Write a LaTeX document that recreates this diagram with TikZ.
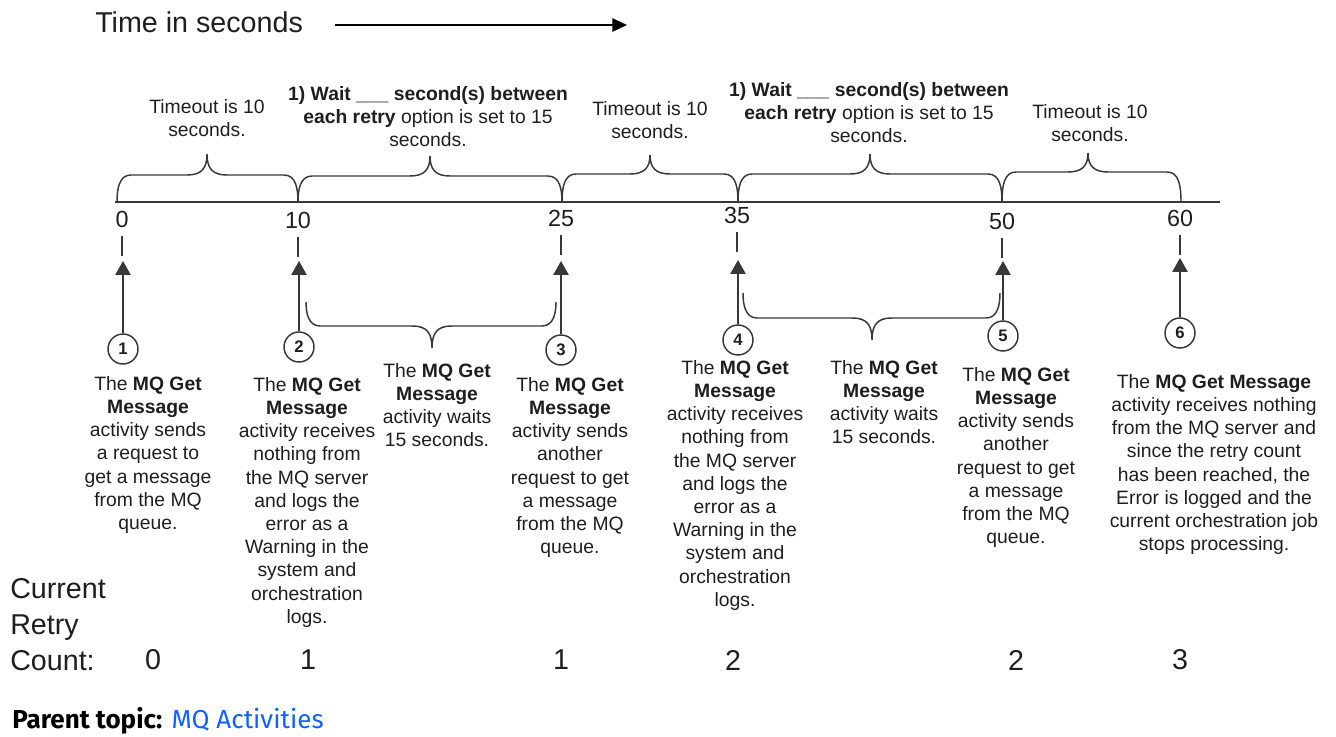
\documentclass[tikz,border=0pt]{standalone}
\usepackage{fontspec}
\setmainfont{Liberation Sans}
\newfontfamily\plexfont{Fira Sans}
\usetikzlibrary{arrows.meta}
\definecolor{ink}{HTML}{1E1E1E}
\definecolor{linec}{HTML}{383838}
\definecolor{ibmblue}{HTML}{0F62FE}
% x1 x2 xm ybase yflat ytip dir
\newcommand\curlybrace[7]{%
  \draw[bracestyle] (#1,#4) .. controls (#1,{#5+(#7)*14}) and (#1+2,#5) .. (#1+14,#5)
    -- (#3-20,#5) .. controls (#3-6,#5) and (#3,{#5-(#7)*6}) .. (#3,#6)
    .. controls (#3,{#5-(#7)*6}) and (#3+6,#5) .. (#3+20,#5)
    -- (#2-14,#5) .. controls (#2-2,#5) and (#2,{#5+(#7)*14}) .. (#2,#4);}
\begin{document}
\begin{tikzpicture}[x=0.75pt,y=-0.75pt,
  bracestyle/.style={draw=linec, line width=1.1pt},
  desc/.style={align=center, font=\fontsize{14.5}{17.4}\selectfont, inner sep=0pt, anchor=north, text=ink},
  ticklab/.style={font=\fontsize{17.5}{20}\selectfont, inner sep=0pt, text=ink},
  bigtxt/.style={font=\fontsize{21.5}{27}\selectfont, inner sep=0pt, text=ink},
  tickseg/.style={draw=linec, line width=1.1pt},
  circ/.style={circle, draw=linec, line width=1.1pt, minimum size=22.5pt, inner sep=0pt, font=\bfseries\fontsize{12.5}{14}\selectfont, text=ink},
  arr/.style={draw=linec, line width=1.3pt, -{Triangle[length=10.5pt,width=11.5pt]}},
  timeline/.style={draw=linec, line width=1.4pt}]
\useasboundingbox (0,0) rectangle (1336,737);

% title
\node[bigtxt, anchor=west] (title) at (95,22) {Time in seconds};
\coordinate (ta) at (335,25);
\coordinate (tb) at (627,25);
\draw[line width=1.2pt, black, -{Triangle[length=11pt,width=10pt]}] (ta) -- (tb);

% timeline
\coordinate (tl) at (115,202);
\coordinate (tr) at (1220,202);
\draw[timeline] (tl) -- (tr);

% top braces
\curlybrace{117}{298}{207}{202}{175}{154}{1}
\curlybrace{298}{562}{430}{202}{176}{156}{1}
\curlybrace{562}{738}{650}{202}{174}{155}{1}
\curlybrace{738}{1002}{870}{202}{174}{154}{1}
\curlybrace{1002}{1181}{1088}{202}{172}{153}{1}

% top labels
\node[desc] (lab1) at (207,99) {Timeout is 10\\seconds.};
\node[desc] (lab2) at (428,86) {\bfseries 1) Wait \_\_\_ second(s) between\\{\bfseries each retry} option is set to 15\\seconds.};
\node[desc] (lab3) at (650,101) {Timeout is 10\\seconds.};
\node[desc] (lab4) at (869,82) {\bfseries 1) Wait \_\_\_ second(s) between\\{\bfseries each retry} option is set to 15\\seconds.};
\node[desc] (lab5) at (1090,104) {Timeout is 10\\seconds.};

% tick labels
\node[ticklab] (t0) at (122,219) {0};
\node[ticklab] (t10) at (298,220) {10};
\node[ticklab] (t25) at (561,218) {25};
\node[ticklab] (t35) at (737,215) {35};
\node[ticklab] (t50) at (1002,221) {50};
\node[ticklab] (t60) at (1180,218) {60};

\foreach \t in {t0,t10,t25,t35,t50,t60}
  \draw[tickseg] ([yshift=-6pt]\t.south) -- ++(0,20);

% circles
\node[circ] (c1) at (123,349) {1};
\node[circ] (c2) at (299,347) {2};
\node[circ] (c3) at (561,350) {3};
\node[circ] (c4) at (738,340) {4};
\node[circ] (c5) at (1003,336) {5};
\node[circ] (c6) at (1180,333) {6};

\coordinate (a1) at (123,261);
\coordinate (a2) at (299,261);
\coordinate (a3) at (561,261);
\coordinate (a4) at (738,260);
\coordinate (a5) at (1003,261);
\coordinate (a6) at (1180,258);
\foreach \i in {1,...,6}
  \draw[arr] (c\i) -- (a\i);

% lower braces
\curlybrace{306}{556}{432}{302}{326}{348}{-1}
\curlybrace{743}{1000}{872}{293}{318}{340}{-1}

% descriptions
\node[desc] (d1) at (148,376) {The {\bfseries MQ Get}\\{\bfseries Message}\\activity sends\\a request to\\get a message\\from the MQ\\queue.};
\node[desc] (d2) at (307,377) {The {\bfseries MQ Get}\\{\bfseries Message}\\activity receives\\nothing from\\the MQ server\\and logs the\\error as a\\Warning in the\\system and\\orchestration\\logs.};
\node[desc] (d3) at (437,363) {The {\bfseries MQ Get}\\{\bfseries Message}\\activity waits\\15 seconds.};
\node[desc] (d4) at (570,377) {The {\bfseries MQ Get}\\{\bfseries Message}\\activity sends\\another\\request to get\\a message\\from the MQ\\queue.};
\node[desc] (d5) at (735,360) {The {\bfseries MQ Get}\\{\bfseries Message}\\activity receives\\nothing from\\the MQ server\\and logs the\\error as a\\Warning in the\\system and\\orchestration\\logs.};
\node[desc] (d6) at (884,360) {The {\bfseries MQ Get}\\{\bfseries Message}\\activity waits\\15 seconds.};
\node[desc] (d7) at (1016,367) {The {\bfseries MQ Get}\\{\bfseries Message}\\activity sends\\another\\request to get\\a message\\from the MQ\\queue.};
\node[desc] (d8) at (1214,374) {The {\bfseries MQ Get Message}\\activity receives nothing\\from the MQ server and\\since the retry count\\has been reached, the\\Error is logged and the\\current orchestration job\\stops processing.};

% retry count
\node[bigtxt, anchor=north west, align=left] (crc) at (10,578) {Current\\Retry\\Count:};
\node[bigtxt] (n1) at (153,660) {0};
\node[bigtxt] (n2) at (308,660) {1};
\node[bigtxt] (n3) at (561,660) {1};
\node[bigtxt] (n4) at (733,660) {2};
\node[bigtxt] (n5) at (1016,660) {2};
\node[bigtxt] (n6) at (1180,660) {3};

% parent topic
\node[anchor=base west, inner sep=0pt, font=\plexfont\fontsize{19.5}{22}\selectfont] (pt) at (12,729) {{\bfseries Parent topic:} \textcolor{ibmblue}{MQ Activities}};
\end{tikzpicture}
\end{document}
